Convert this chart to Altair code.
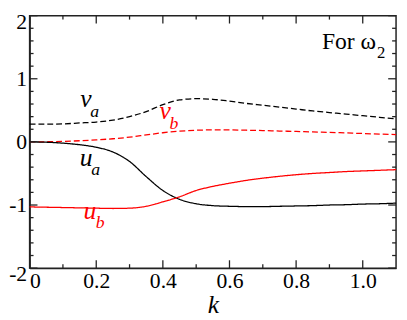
import altair as alt
import pandas as pd

# ---- data ----
k = [0.0, 0.05, 0.1, 0.15, 0.2, 0.25, 0.3, 0.35, 0.4, 0.45, 0.5, 0.55,
     0.6, 0.65, 0.7, 0.75, 0.8, 0.85, 0.9, 0.95, 1.0, 1.05, 1.1]
v_a = [0.28, 0.28, 0.285, 0.30, 0.315, 0.345, 0.40, 0.48, 0.59, 0.665, 0.685, 0.675,
       0.645, 0.61, 0.58, 0.55, 0.52, 0.49, 0.465, 0.44, 0.415, 0.39, 0.365]
v_b = [0.0, 0.002, 0.008, 0.018, 0.032, 0.05, 0.075, 0.11, 0.145, 0.17, 0.185, 0.19,
       0.19, 0.185, 0.18, 0.172, 0.165, 0.157, 0.15, 0.142, 0.133, 0.124, 0.115]
u_a = [0.0, -0.005, -0.02, -0.045, -0.085, -0.16, -0.31, -0.55, -0.77, -0.91, -0.98, -1.01,
       -1.02, -1.025, -1.025, -1.02, -1.015, -1.01, -1.0, -0.995, -0.985, -0.98, -0.97]
u_b = [-1.03, -1.035, -1.04, -1.045, -1.05, -1.055, -1.05, -1.02, -0.95, -0.87, -0.77, -0.705,
       -0.655, -0.61, -0.575, -0.545, -0.52, -0.50, -0.485, -0.47, -0.46, -0.45, -0.44]

series_names = ["v_a", "v_b", "u_a", "u_b"]
series_colors = ["#000000", "#ff0000", "#000000", "#ff0000"]
series_dash = ["dashed", "dashed", "solid", "solid"]

x_major = [0.0, 0.2, 0.4, 0.6, 0.8, 1.0]
x_minor = [0.1, 0.3, 0.5, 0.7, 0.9]
y_major = [-2, -1, 0, 1, 2]
y_minor = [-1.8, -1.6, -1.4, -1.2, -0.8, -0.6, -0.4, -0.2,
           0.2, 0.4, 0.6, 0.8, 1.2, 1.4, 1.6, 1.8]

# curve labels: main letter and subscript
lab_series = ["v_a", "u_a", "u_b", "v_b"]
lab_main = ["v", "u", "u", "v"]
lab_main_x = [0.169, 0.170, 0.181, 0.407]
lab_main_y = [0.547, -0.378, -1.221, 0.367]
lab_sub = ["a", "a", "b", "b"]
lab_sub_x = [0.195, 0.198, 0.212, 0.433]
lab_sub_y = [0.397, -0.532, -1.371, 0.202]

note_text = ["For \u03c9"]
note_x = [1.04]
note_y = [1.476]
note_sub = ["2"]
note_sub_x = [1.043]
note_sub_y = [1.326]

# ---- build tables ----
rows = []
for name, vals, dash in zip(series_names, [v_a, v_b, u_a, u_b], series_dash):
    for kk, vv in zip(k, vals):
        rows.append({"k": kk, "val": vv, "series": name, "dash": dash})
curves = pd.DataFrame(rows)

W, H = 398, 312
FONT = "Liberation Serif, Times New Roman, serif"
xs = alt.Scale(domain=[0, 1.1], nice=False, zero=False)
ys = alt.Scale(domain=[-2, 2], nice=False, zero=False)
cs = alt.Scale(domain=series_names, range=series_colors)
ds = alt.Scale(domain=["solid", "dashed"], range=[[1, 0], [6, 3]])

x_axis = alt.Axis(values=x_major, labelExpr="datum.value == 0 ? '0' : format(datum.value, '.1f')",
                  ticks=False, grid=False, labelFont=FONT, labelFontSize=22,
                  labelColor="black", labelPadding=3, title="k", titleFont=FONT,
                  titleFontSize=26, titleFontStyle="italic", titleFontWeight="normal",
                  titleColor="black", titlePadding=0, domainColor="#222", domainWidth=1.5,
                  labelOverlap=False)
y_axis = alt.Axis(values=y_major, labelExpr="toString(datum.value)",
                  ticks=False, grid=False, labelFont=FONT, labelFontSize=22,
                  labelColor="black", labelPadding=3, title="",
                  domainColor="#222", domainWidth=1.5, labelOverlap=False,
                  labelOffset={"condition": {"test": "abs(datum.value) == 2", "value": 6}, "value": 0})

lines = alt.Chart(curves).mark_line(strokeWidth=1.3, interpolate="monotone").encode(
    x=alt.X("k:Q", scale=xs, axis=x_axis),
    y=alt.Y("val:Q", scale=ys, axis=y_axis),
    color=alt.Color("series:N", scale=cs, legend=None),
    strokeDash=alt.StrokeDash("dash:N", scale=ds, legend=None),
    detail="series:N",
)

def tick_layer(vals, axis, length):
    df = pd.DataFrame({"v": vals})
    base = alt.Chart(df).mark_rule(color="#222", strokeWidth=1.3)
    if axis == "x":
        a = base.encode(x=alt.X("v:Q", scale=xs),
                        y=alt.YValue({"expr": "height"}), y2=alt.YValue({"expr": "height - %d" % length}))
        b = base.encode(x=alt.X("v:Q", scale=xs), y=alt.value(0), y2=alt.value(length))
    else:
        a = base.encode(y=alt.Y("v:Q", scale=ys), x=alt.value(0), x2=alt.value(length))
        b = base.encode(y=alt.Y("v:Q", scale=ys),
                        x=alt.XValue({"expr": "width"}), x2=alt.XValue({"expr": "width - %d" % length}))
    return [a, b]

ticks = (tick_layer(x_major, "x", 8) + tick_layer(x_minor, "x", 4)
         + tick_layer(y_major, "y", 8) + tick_layer(y_minor, "y", 4))

labs = pd.DataFrame({"series": lab_series, "t": lab_main, "x": lab_main_x, "y": lab_main_y})
subs = pd.DataFrame({"series": lab_series, "t": lab_sub, "x": lab_sub_x, "y": lab_sub_y})
main_text = alt.Chart(labs).mark_text(font=FONT, fontSize=26, fontStyle="italic",
                                      baseline="alphabetic", align="center").encode(
    x=alt.X("x:Q", scale=xs), y=alt.Y("y:Q", scale=ys),
    text="t:N", color=alt.Color("series:N", scale=cs, legend=None))
sub_text = alt.Chart(subs).mark_text(font=FONT, fontSize=18, fontStyle="italic",
                                     baseline="alphabetic", align="center").encode(
    x=alt.X("x:Q", scale=xs), y=alt.Y("y:Q", scale=ys),
    text="t:N", color=alt.Color("series:N", scale=cs, legend=None))

nt = pd.DataFrame({"t": note_text, "x": note_x, "y": note_y})
ns = pd.DataFrame({"t": note_sub, "x": note_sub_x, "y": note_sub_y})
note = alt.Chart(nt).mark_text(font=FONT, fontSize=24, baseline="alphabetic", align="right",
                               color="black").encode(
    x=alt.X("x:Q", scale=xs), y=alt.Y("y:Q", scale=ys), text="t:N")
note2 = alt.Chart(ns).mark_text(font=FONT, fontSize=17, baseline="alphabetic", align="left",
                                color="black").encode(
    x=alt.X("x:Q", scale=xs), y=alt.Y("y:Q", scale=ys), text="t:N")

chart = alt.layer(lines, *ticks, main_text, sub_text, note, note2).properties(
    width=W, height=H, background="white", padding=0,
    autosize=alt.AutoSizeParams(type="fit", contains="padding")
).configure_view(stroke="#222", strokeWidth=1.5)

chart.save("out.html", embed_options={"renderer": "svg", "actions": False})
